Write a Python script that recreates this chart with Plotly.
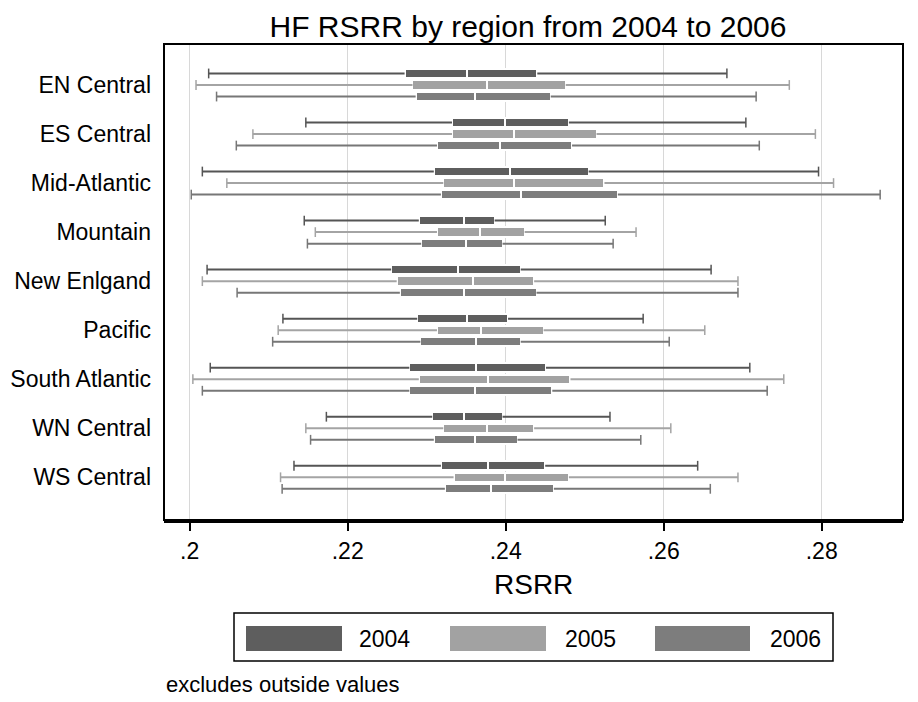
import plotly.graph_objects as go

regions = ["EN Central", "ES Central", "Mid-Atlantic", "Mountain", "New Enlgand",
           "Pacific", "South Atlantic", "WN Central", "WS Central"]
years = ["2004", "2005", "2006"]

lw_2004 = [0.2024, 0.2147, 0.2016, 0.2145, 0.2022, 0.2118, 0.2026, 0.2173, 0.2132]
q1_2004 = [0.2272, 0.2332, 0.2309, 0.2290, 0.2255, 0.2288, 0.2278, 0.2307, 0.2318]
med_2004 = [0.2351, 0.2399, 0.2405, 0.2347, 0.2339, 0.2351, 0.2363, 0.2347, 0.2378]
q3_2004 = [0.2440, 0.2480, 0.2505, 0.2386, 0.2419, 0.2403, 0.2451, 0.2396, 0.2450]
uw_2004 = [0.2680, 0.2704, 0.2796, 0.2526, 0.2660, 0.2574, 0.2709, 0.2532, 0.2643]

lw_2005 = [0.2008, 0.2080, 0.2047, 0.2159, 0.2016, 0.2112, 0.2004, 0.2147, 0.2115]
q1_2005 = [0.2282, 0.2332, 0.2321, 0.2313, 0.2262, 0.2313, 0.2290, 0.2321, 0.2334]
med_2005 = [0.2376, 0.2410, 0.2410, 0.2368, 0.2359, 0.2369, 0.2378, 0.2376, 0.2399]
q3_2005 = [0.2476, 0.2515, 0.2525, 0.2424, 0.2436, 0.2448, 0.2482, 0.2436, 0.2480]
uw_2005 = [0.2759, 0.2792, 0.2815, 0.2565, 0.2694, 0.2652, 0.2752, 0.2609, 0.2694]

lw_2006 = [0.2034, 0.2059, 0.2002, 0.2149, 0.2060, 0.2105, 0.2016, 0.2153, 0.2117]
q1_2006 = [0.2286, 0.2313, 0.2318, 0.2293, 0.2266, 0.2292, 0.2278, 0.2309, 0.2323]
med_2006 = [0.2361, 0.2393, 0.2419, 0.2350, 0.2347, 0.2363, 0.2361, 0.2361, 0.2382]
q3_2006 = [0.2457, 0.2484, 0.2542, 0.2396, 0.2439, 0.2419, 0.2459, 0.2415, 0.2461]
uw_2006 = [0.2717, 0.2721, 0.2874, 0.2536, 0.2694, 0.2607, 0.2731, 0.2571, 0.2659]

x_tick_values = [0.20, 0.22, 0.24, 0.26, 0.28]
x_tick_labels = [".2", ".22", ".24", ".26", ".28"]

stats = {
    "2004": (lw_2004, q1_2004, med_2004, q3_2004, uw_2004),
    "2005": (lw_2005, q1_2005, med_2005, q3_2005, uw_2005),
    "2006": (lw_2006, q1_2006, med_2006, q3_2006, uw_2006),
}
box_colors = {"2004": "#5e5e5e", "2005": "#a2a2a2", "2006": "#7d7d7d"}
whisk_colors = {"2004": "#555555", "2005": "#a4a4a4", "2006": "#777777"}
offsets = {"2004": -0.235, "2005": 0.0, "2006": 0.235}

FONT = "Liberation Sans, Arial, sans-serif"
fig = go.Figure()

for yr in years:
    lw, q1, med, q3, uw = stats[yr]
    pos = [i + offsets[yr] for i in range(len(regions))]
    fig.add_trace(go.Bar(orientation="h", y=pos, base=q1,
                         x=[m - a for m, a in zip(med, q1)], width=0.19,
                         marker=dict(color=box_colors[yr], line=dict(color="white", width=2)),
                         showlegend=False, name=yr, hoverinfo="skip"))
    fig.add_trace(go.Bar(orientation="h", y=pos, base=med,
                         x=[b - m for b, m in zip(q3, med)], width=0.19,
                         marker=dict(color=box_colors[yr], line=dict(color="white", width=2)),
                         showlegend=False, name=yr, hoverinfo="skip"))
    wx, wy = [], []
    for p, a, b, c, d in zip(pos, lw, q1, q3, uw):
        wx += [a, b, None, c, d, None]
        wy += [p, p, None, p, p, None]
    fig.add_trace(go.Scatter(x=wx, y=wy, mode="lines",
                             line=dict(color=whisk_colors[yr], width=2),
                             showlegend=False, hoverinfo="skip"))
    fig.add_trace(go.Scatter(x=lw + uw, y=pos + pos, mode="markers",
                             marker=dict(symbol="line-ns", size=7,
                                         line=dict(color=whisk_colors[yr], width=1.5)),
                             showlegend=False, hoverinfo="skip"))

W, H = 918, 702
OFF = 8  # page body margin
PL, PR, PT, PB = 164, 903, 44, 520  # plot area in page pixels
L, R, T, B = PL - OFF, PR - OFF, PT - OFF, PB - OFF

def px(x_page):
    return (x_page - OFF - L) / (R - L)

def py(y_page):
    return (B - (y_page - OFF)) / (B - T)

shapes = [
    dict(type="rect", xref="paper", yref="paper", x0=0, x1=1, y0=0, y1=1,
         line=dict(color="black", width=2), layer="above"),
    dict(type="rect", xref="paper", yref="paper", x0=px(234), x1=px(833),
         y0=py(661), y1=py(613), line=dict(color="black", width=1.5)),
]
annotations = []
key_x = [(246, 342), (450, 546), (655, 750)]
text_x = [384, 590, 795]
for yr, (k0, k1), tx in zip(years, key_x, text_x):
    shapes.append(dict(type="rect", xref="paper", yref="paper", x0=px(k0), x1=px(k1),
                       y0=py(651), y1=py(626), fillcolor=box_colors[yr], line=dict(width=0)))
    annotations.append(dict(text=yr, xref="paper", yref="paper", x=px(tx), y=py(639),
                            showarrow=False, font=dict(size=23, color="black", family=FONT),
                            xanchor="center", yanchor="middle"))
annotations.append(dict(text="RSRR", xref="paper", yref="paper", x=px(533), y=py(584),
                        showarrow=False, font=dict(size=28, color="black", family=FONT),
                        xanchor="center", yanchor="middle"))
annotations.append(dict(text="excludes outside values", xref="paper", yref="paper",
                        x=px(164), y=py(684), showarrow=False,
                        font=dict(size=22, color="black", family=FONT),
                        xanchor="left", yanchor="middle"))

px_per_unit = 7900.0
x0_page = 189.7
fig.update_layout(
    width=W, height=H,
    margin=dict(l=L, r=W - R, t=T, b=H - B, pad=0, autoexpand=False),
    paper_bgcolor="white", plot_bgcolor="white",
    barmode="overlay", bargap=0,
    title=dict(text="HF RSRR by region from 2004 to 2006", x=px(528), xref="paper",
               xanchor="center", y=1 - 18 / H, yref="container", yanchor="middle",
               font=dict(size=30, color="black", family=FONT)),
    font=dict(family=FONT, color="black"),
    xaxis=dict(range=[0.2 - (x0_page - PL) / px_per_unit, 0.2 + (PR - x0_page) / px_per_unit],
               tickvals=x_tick_values, ticktext=x_tick_labels, automargin=False,
               showgrid=True, gridcolor="#d8d8d8", gridwidth=1,
               ticks="outside", ticklen=8, tickwidth=2, tickcolor="black",
               showline=True, linecolor="black", linewidth=3,
               tickfont=dict(size=23, family=FONT), zeroline=False),
    yaxis=dict(range=[8.871, -0.836], tickvals=list(range(len(regions))), ticktext=regions,
               automargin=False,
               showgrid=False, zeroline=False, ticks="", ticklen=0,
               ticklabelstandoff=12,
               tickfont=dict(size=23, family=FONT), showline=False),
    shapes=shapes, annotations=annotations, showlegend=False,
)

fig.write_html("out.html")
